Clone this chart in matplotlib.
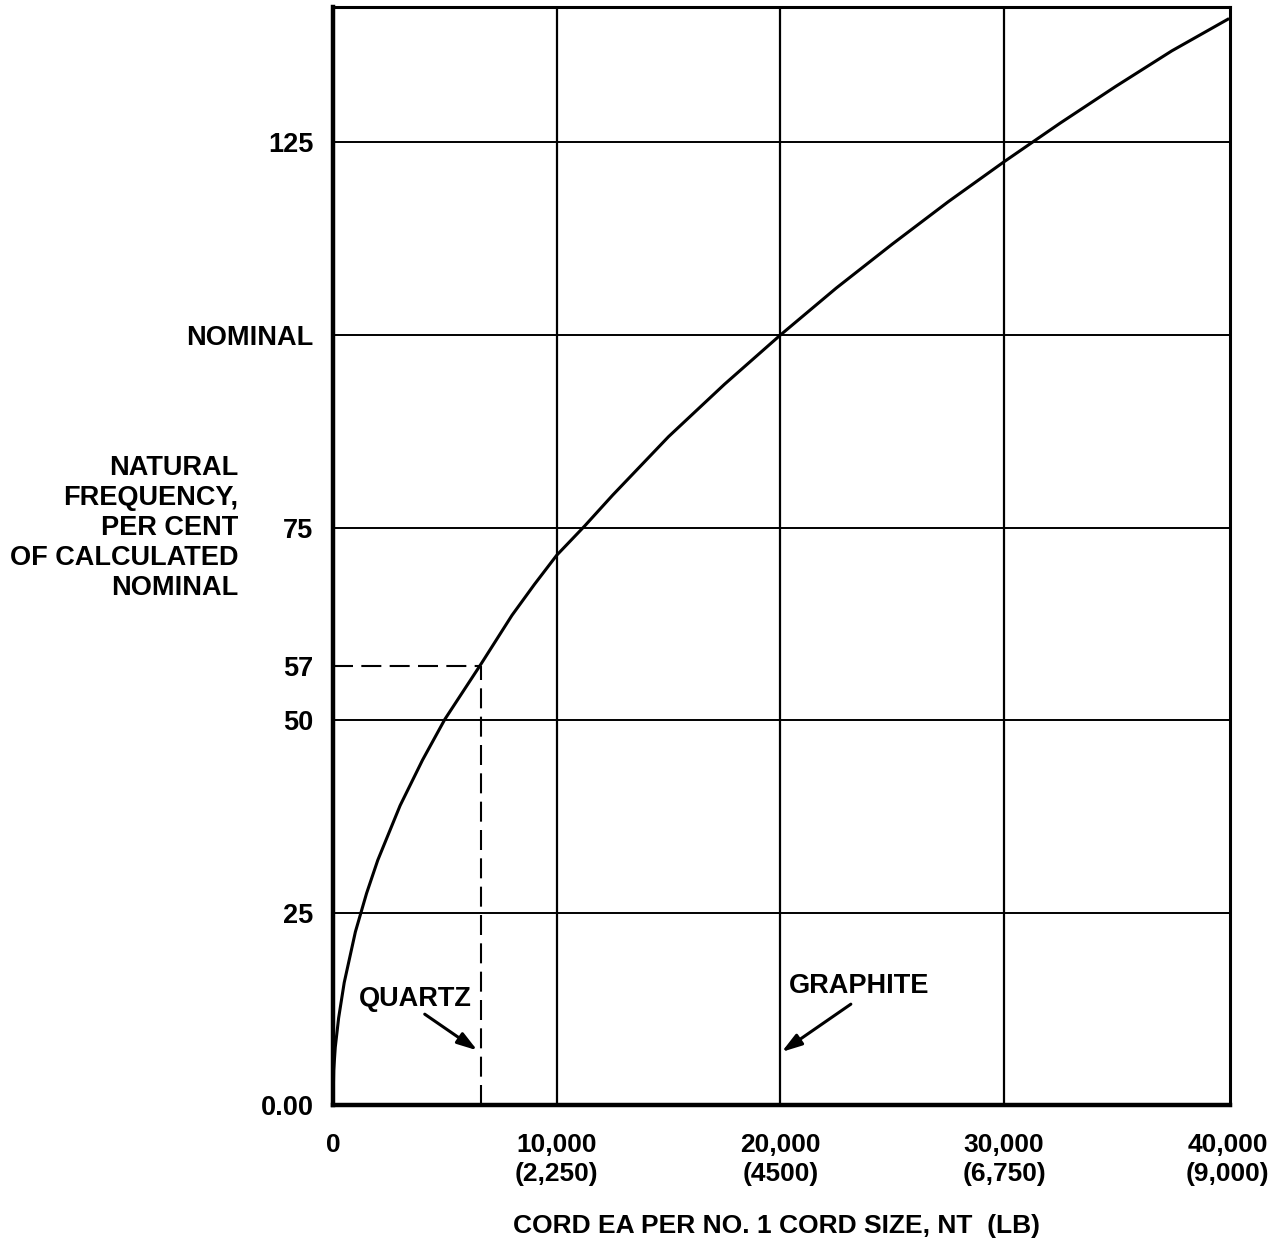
import numpy as np
import matplotlib
matplotlib.use("Agg")
import matplotlib.pyplot as plt

# curve (EA in NT, frequency in per cent of nominal)
cord_ea = [0, 30, 100, 250, 500, 1000, 1500, 2000, 3000, 4000, 5000, 6600,
           8000, 9000, 10000, 11250, 12500, 15000, 17500, 20000, 22500, 25000,
           27500, 30000, 32500, 35000, 37500, 40000]
freq_pct = [0, 4.5, 7.5, 11.3, 15.9, 22.5, 27.5, 31.8, 38.9, 44.8, 50.1, 57.2,
            63.6, 67.6, 71.4, 75.2, 79.2, 86.8, 93.6, 100, 106.1, 111.8,
            117.3, 122.5, 127.5, 132.3, 136.9, 141.0]

quartz_ea = 6600
quartz_freq = 57
graphite_ea = 20000

xticks = [0, 10000, 20000, 30000, 40000]
xtick_labels = ["0", "10,000\n(2,250)", "20,000\n(4500)", "30,000\n(6,750)", "40,000\n(9,000)"]
yticks = [0, 25, 50, 57, 75, 100, 125]
ytick_labels = ["0.00", "25", "50", "57", "75", "NOMINAL", "125"]
xgrid = [10000, 20000, 30000]
ygrid = [25, 50, 75, 100, 125]

fig = plt.figure(figsize=(12.75, 12.44), dpi=100)
ax = fig.add_axes([0.2612, 0.1117, 0.7035, 0.8827])

ax.set_xlim(0, 40100)
ax.set_ylim(0, 142.6)

for g in xgrid:
    ax.axvline(g, color="black", lw=1.6, zorder=1)
for g in ygrid:
    ax.axhline(g, color="black", lw=1.4, zorder=1)

ax.plot(cord_ea, freq_pct, color="black", lw=2.2, zorder=3)

# quartz dashed lines
ax.plot([0, quartz_ea], [quartz_freq, quartz_freq], color="black", lw=1.5,
        dashes=(9.6, 4), zorder=2)
ax.plot([quartz_ea, quartz_ea], [0, quartz_freq], color="black", lw=1.5,
        dashes=(9.6, 4), zorder=2)

bold = dict(family="Liberation Sans", weight="bold", fontsize=19.5)
small = dict(family="Liberation Sans", weight="bold", fontsize=19)

arrow = dict(arrowstyle="-|>,head_length=1.2,head_width=0.38",
             color="black", lw=2.2, shrinkA=0, shrinkB=0)
ax.text(3660, 13.8, "QUARTZ", ha="center", va="center", **bold)
ax.annotate("", xy=(quartz_ea - 150, 7.1), xytext=(4100, 11.8), arrowprops=arrow)
ax.text(23530, 15.5, "GRAPHITE", ha="center", va="center", **bold)
ax.annotate("", xy=(graphite_ea + 60, 6.9), xytext=(23150, 13.1), arrowprops=arrow)

ax.set_xticks(xticks)
ax.set_xticklabels(xtick_labels, linespacing=1.25, **small)
ax.set_yticks(yticks)
ax.set_yticklabels(ytick_labels, **bold)
ax.tick_params(length=0, pad=14)
ax.tick_params(axis="x", pad=20)

for side in ["left", "bottom"]:
    ax.spines[side].set_linewidth(3.2)
for side in ["top", "right"]:
    ax.spines[side].set_linewidth(2.2)

fig.text(0.187, 0.5755, "NATURAL\nFREQUENCY,\nPER CENT\nOF CALCULATED\nNOMINAL",
         ha="right", va="center", linespacing=1.2, **bold)
fig.text(0.609, 0.0145, "CORD EA PER NO. 1 CORD SIZE, NT  (LB)", ha="center",
         va="center", **small)

plt.savefig("out.png", dpi=100)
